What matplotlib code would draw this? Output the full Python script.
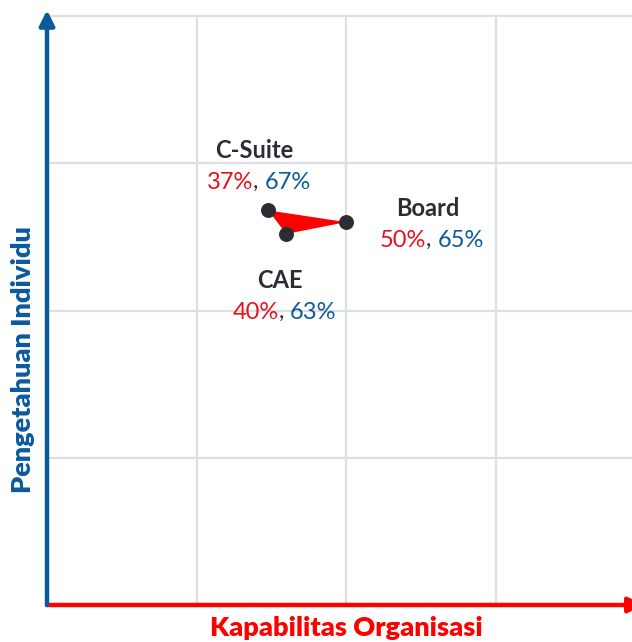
# peta posisi: kapabilitas organisasi vs pengetahuan individu
import matplotlib
matplotlib.use('Agg')
import matplotlib.pyplot as plt
from matplotlib.offsetbox import TextArea, HPacker, AnnotationBbox

plt.rcParams['font.family'] = ['Lato', 'DejaVu Sans']

kelompok = ['C-Suite', 'Board', 'CAE']
kapabilitas = [37, 50, 40]     # sumbu x (%)
pengetahuan = [67, 65, 63]     # sumbu y (%)
# posisi label relatif terhadap titik (dalam % sumbu)
label_dx = [-1.6, 14.3, -0.3]
label_dy = [4.7, -3.1, -13.3]

merah = '#e8101a'
biru = '#0b5a9c'
gelap = '#2b2d33'

fig = plt.figure(figsize=(6.32, 6.42), dpi=100)
ax = fig.add_axes([47/632, 37/642, 585/632, 589/642])
ax.set_xlim(0, 97.8)
ax.set_ylim(0, 100)

for g in [25, 50, 75]:
    ax.axvline(g, color='#dcdfe3', lw=1.6, zorder=0)
for g in [25, 50, 75, 100]:
    ax.axhline(g, color='#dcdfe3', lw=1.6, zorder=0, clip_on=False)

for s in ax.spines.values():
    s.set_visible(False)
ax.set_xticks([])
ax.set_yticks([])

# panah sumbu
ax.annotate('', xy=(1.02, 0), xytext=(0, 0), xycoords='axes fraction',
            arrowprops=dict(arrowstyle='-|>,head_length=0.9,head_width=0.45',
                            color='#ff0000', lw=3.2, shrinkA=0, shrinkB=0),
            annotation_clip=False)
ax.annotate('', xy=(0, 1.01), xytext=(0, 0), xycoords='axes fraction',
            arrowprops=dict(arrowstyle='-|>,head_length=0.9,head_width=0.45',
                            color=biru, lw=3.2, shrinkA=0, shrinkB=0),
            annotation_clip=False)

# segitiga merah antar titik
ax.fill(kapabilitas, pengetahuan, color='#ff0000', zorder=2, lw=0)
ax.scatter(kapabilitas, pengetahuan, s=95, color=gelap, zorder=3)

for i, nama in enumerate(kelompok):
    cx = kapabilitas[i] + label_dx[i]
    cy = pengetahuan[i] + label_dy[i]
    ax.text(cx - 0.7, cy + 5.4, nama, ha='center', va='center', fontsize=17,
            fontweight='bold', color=gelap)
    baris = HPacker(children=[
        TextArea(f'{kapabilitas[i]}%', textprops=dict(color=merah, fontsize=17)),
        TextArea(', ', textprops=dict(color=gelap, fontsize=17)),
        TextArea(f'{pengetahuan[i]}%', textprops=dict(color=biru, fontsize=17)),
    ], sep=0, pad=0, align='baseline')
    ab = AnnotationBbox(baris, (cx, cy), frameon=False, box_alignment=(0.5, 0.5))
    ax.add_artist(ab)

fig.text(346/632, 1 - 628/642, 'Kapabilitas Organisasi', ha='center', va='center',
         fontsize=19.5, fontweight='heavy', color='#ff0000')
fig.text(23/632, 1 - 360/642, 'Pengetahuan Individu', ha='center', va='center',
         rotation=90, fontsize=19.5, fontweight='heavy', color=biru)

fig.savefig('out.png', dpi=100)
